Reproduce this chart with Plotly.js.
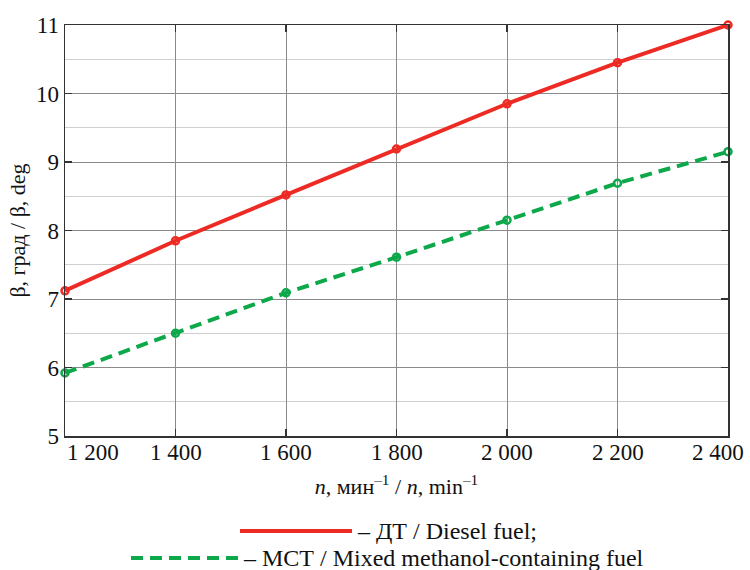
<!DOCTYPE html>
<html>
<head>
<meta charset="utf-8">
<script src="https://cdn.plot.ly/plotly-3.0.1.min.js"></script>
<style>html,body{margin:0;padding:0;background:#fff;}#chart{width:750px;height:570px;}</style>
</head>
<body>
<div id="chart"></div>
<script>
const rpm = [1200, 1400, 1600, 1800, 2000, 2200, 2400];
const dieselFuel = [7.12, 7.85, 8.52, 9.19, 9.85, 10.45, 11.0];
const mixedFuel = [5.92, 6.50, 7.09, 7.61, 8.15, 8.69, 9.15];
const xTickVals = [1200, 1400, 1600, 1800, 2000, 2200, 2400];
const xTickText = ["1 200", "1 400", "1 600", "1 800", "2 000", "2 200", "2 400"];
const seriesNames = ["– ДТ / Diesel fuel;", "– МСТ / Mixed methanol-containing fuel"];

const SERIF = "'Liberation Serif', 'Times New Roman', serif";
const RED = "#ee2a24";
const GREEN = "#0ca84a";

function draw() {
  const traces = [
    {x: rpm, y: dieselFuel, mode: "lines+markers", name: seriesNames[0], showlegend: false,
     line: {color: RED, width: 4}, marker: {symbol: "circle-open", size: 7, color: RED, line: {width: 2.5, color: RED}}, cliponaxis: false},
    {x: rpm, y: mixedFuel, mode: "lines+markers", name: seriesNames[1], showlegend: false,
     line: {color: GREEN, width: 4, dash: "12px,7px"}, marker: {symbol: "circle-open", size: 7, color: GREEN, line: {width: 2.5, color: GREEN}}, cliponaxis: false}
  ];

  const xLabelAnnotations = xTickVals.map((v, i) => ({
    xref: "x", yref: "paper", x: v, y: 0,
    xanchor: i === 0 ? "left" : (i === xTickVals.length - 1 ? "right" : "center"),
    xshift: i === 0 ? 0 : (i === xTickVals.length - 1 ? 18 : 0),
    yanchor: "top", yshift: -2,
    text: xTickText[i], showarrow: false, font: {family: SERIF, size: 23, color: "#111"}
  }));

  const layout = {
    width: 750, height: 570,
    margin: {l: 65, r: 22, t: 25, b: 134},
    paper_bgcolor: "#fff", plot_bgcolor: "#fff",
    font: {family: SERIF, color: "#111", size: 18},
    xaxis: {
      range: [1200, 2400], tickvals: xTickVals, ticktext: xTickText, showticklabels: false,
      showgrid: true, gridcolor: "#8a8a8a", gridwidth: 1,
      showline: true, linecolor: "#333", linewidth: 1.5, mirror: "ticks",
      ticks: "inside", ticklen: 7, tickcolor: "#333", tickwidth: 1.5,
      zeroline: false,
      title: {text: "<i>n</i>, мин<sup>–1</sup> / <i>n</i>, min<sup>–1</sup>", font: {family: SERIF, size: 22, color: "#111"}, standoff: 42}
    },
    yaxis: {
      range: [5, 11], dtick: 1,
      showgrid: true, gridcolor: "#8a8a8a", gridwidth: 1,
      minor: {dtick: 0.5, showgrid: true, gridcolor: "#cfcfcf", gridwidth: 1},
      showline: true, linecolor: "#333", linewidth: 1.5, mirror: "ticks",
      ticks: "inside", ticklen: 7, tickcolor: "#333", tickwidth: 1.5,
      zeroline: false, tickfont: {family: SERIF, size: 23, color: "#111"},
      title: {text: "β, град / β, deg", font: {family: SERIF, size: 22, color: "#111"}, standoff: 4}
    },
    shapes: [
      {type: "line", xref: "paper", yref: "paper", x0: (240-65)/663, x1: (352-65)/663, y0: -0.231, y1: -0.231,
       line: {color: RED, width: 4}},
      {type: "line", xref: "paper", yref: "paper", x0: (131-65)/663, x1: (238-65)/663, y0: -0.297, y1: -0.297,
       line: {color: GREEN, width: 4, dash: "12px,7px"}}
    ],
    annotations: xLabelAnnotations.concat([
      {xref: "paper", yref: "paper", x: (355-65)/663, y: -0.231, xanchor: "left", yanchor: "middle",
       text: seriesNames[0], showarrow: false, font: {family: SERIF, size: 24, color: "#111"}},
      {xref: "paper", yref: "paper", x: (241-65)/663, y: -0.297, xanchor: "left", yanchor: "middle",
       text: seriesNames[1], showarrow: false, font: {family: SERIF, size: 24, color: "#111"}}
    ])
  };

  Plotly.newPlot("chart", traces, layout, {displayModeBar: false, staticPlot: true});
}

if (document.fonts && document.fonts.load) {
  Promise.all([
    document.fonts.load("20px 'Liberation Serif'", "ДТ Diesel 1 200 β"),
    document.fonts.load("italic 20px 'Liberation Serif'", "n")
  ]).then(draw, draw);
} else {
  draw();
}
</script>
</body>
</html>
